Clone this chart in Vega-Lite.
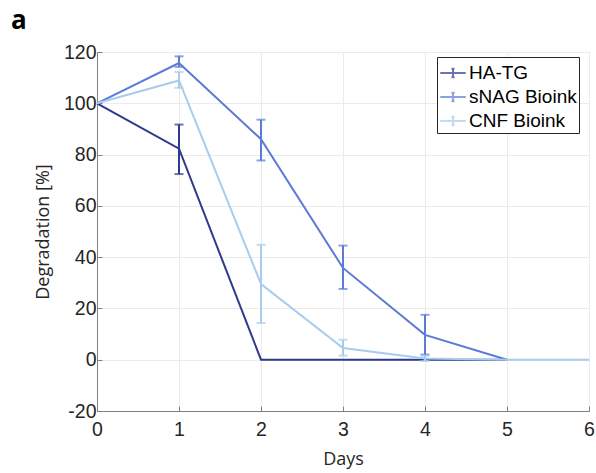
{
  "$schema": "https://vega.github.io/schema/vega-lite/v6.json",
  "width": 492,
  "height": 359,
  "autosize": {"type": "none"},
  "padding": {"left": 97, "top": 52, "right": 7, "bottom": 62},
  "background": "white",
  "title": {"text": "a", "anchor": "start", "frame": "group", "dx": -86, "offset": 8, "fontSize": 26, "font": "Open Sans", "fontWeight": "bold", "color": "black"},
  "data": {"values": [
    {"series": "HA-TG", "day": 0, "value": 100},
    {"series": "HA-TG", "day": 1, "value": 82.3, "lo": 72.4, "hi": 91.7},
    {"series": "HA-TG", "day": 2, "value": 0},
    {"series": "HA-TG", "day": 3, "value": 0},
    {"series": "HA-TG", "day": 4, "value": 0},
    {"series": "HA-TG", "day": 5, "value": 0},
    {"series": "sNAG Bioink", "day": 0, "value": 100},
    {"series": "sNAG Bioink", "day": 1, "value": 115.7, "lo": 114.2, "hi": 118.3},
    {"series": "sNAG Bioink", "day": 2, "value": 86, "lo": 77.7, "hi": 93.6},
    {"series": "sNAG Bioink", "day": 3, "value": 35.8, "lo": 27.6, "hi": 44.5},
    {"series": "sNAG Bioink", "day": 4, "value": 9.7, "lo": 2, "hi": 17.5},
    {"series": "sNAG Bioink", "day": 5, "value": 0},
    {"series": "CNF Bioink", "day": 0, "value": 100},
    {"series": "CNF Bioink", "day": 1, "value": 108.9, "lo": 106, "hi": 112.2},
    {"series": "CNF Bioink", "day": 2, "value": 29.5, "lo": 14.3, "hi": 44.8},
    {"series": "CNF Bioink", "day": 3, "value": 4.6, "lo": 1.6, "hi": 7.8},
    {"series": "CNF Bioink", "day": 4, "value": 0.5, "lo": -0.5, "hi": 1.5},
    {"series": "CNF Bioink", "day": 5, "value": 0},
    {"series": "CNF Bioink", "day": 6, "value": 0}
  ]},
  "config": {
    "view": {"stroke": "#808080", "strokeWidth": 1},
    "axis": {
      "labelFont": "Liberation Sans", "labelFontSize": 19.5, "labelColor": "#262626",
      "titleFont": "Open Sans", "titleFontSize": 18, "titleFontWeight": "normal", "titleColor": "#262626",
      "domainColor": "#808080", "tickColor": "#808080", "tickSize": -5,
      "gridColor": "#ebebeb", "gridWidth": 1, "labelOverlap": false, "labelFlush": false
    }
  },
  "encoding": {
    "x": {"field": "day", "type": "quantitative",
          "scale": {"domain": [0, 6], "nice": false, "zero": false},
          "axis": {"title": "Days", "values": [0,1,2,3,4,5,6], "labelPadding": 14, "titlePadding": 12, "labelExpr": "'' + datum.value"}},
    "y": {"field": "value", "type": "quantitative",
          "scale": {"domain": [-20, 120], "nice": false},
          "axis": {"title": "Degradation [%]", "values": [-20,0,20,40,60,80,100,120], "labelPadding": 6, "titlePadding": 11, "labelExpr": "'' + datum.value"}},
    "color": {"field": "series", "type": "nominal",
              "scale": {"domain": ["HA-TG", "sNAG Bioink", "CNF Bioink"], "range": ["#2e3a8c", "#5b7bd6", "#a8cced"]},
              "legend": {"title": null, "orient": "none", "legendX": 340, "legendY": 5,
                         "fillColor": "white", "strokeColor": "#262626", "padding": 2,
                         "labelFont": "Liberation Sans", "labelFontSize": 19, "labelColor": "black", "labelLimit": 300,
                         "symbolType": "M-1,0L1,0M0,-0.33L0,0.33M-0.12,-0.33L0.12,-0.33M-0.12,0.33L0.12,0.33",
                         "symbolSize": 650, "symbolStrokeWidth": 2, "rowPadding": 0, "labelOffset": 2}}
  },
  "layer": [
    {
      "mark": {"type": "line", "strokeWidth": 2}
    },
    {
      "transform": [{"filter": "isValid(datum.lo)"}],
      "mark": {"type": "errorbar", "ticks": {"size": 9, "thickness": 2}, "thickness": 2},
      "encoding": {
        "y": {"field": "lo", "type": "quantitative", "title": "Degradation [%]"},
        "y2": {"field": "hi"}
      }
    }
  ]
}
